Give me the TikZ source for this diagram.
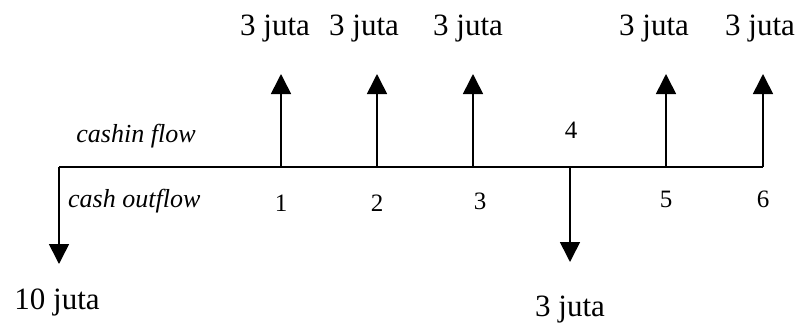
\documentclass[tikz,border=0pt]{standalone}
\usepackage{fontspec}
\setmainfont{Liberation Serif}
\usetikzlibrary{arrows.meta}
\begin{document}
\begin{tikzpicture}[x=1pt,y=-1pt,
  flow/.style={line width=1.6pt,-{Triangle[width=20pt,length=20pt]}},
  axis/.style={line width=1.6pt},
  amount/.style={inner sep=0pt,anchor=base,font=\fontsize{31}{36}\selectfont},
  period/.style={inner sep=0pt,anchor=base,font=\fontsize{25}{29}\selectfont},
  side/.style={inner sep=0pt,anchor=base,font=\fontsize{26}{30}\selectfont\itshape}]
\useasboundingbox (0,0) rectangle (798,325);

% time axis
\coordinate (t0) at (59,167);
\coordinate (t1) at (281,167);
\coordinate (t2) at (377,167);
\coordinate (t3) at (473,167);
\coordinate (t4) at (570,167);
\coordinate (t5) at (666,167);
\coordinate (t6) at (763,167);
\draw[axis] (t0) -- (t6);

% arrow tips
\coordinate (d0) at (59,264);
\coordinate (u1) at (281,74);
\coordinate (u2) at (377,74);
\coordinate (u3) at (473,74);
\coordinate (d4) at (570,262);
\coordinate (u5) at (666,74);
\coordinate (u6) at (763,74);

% cash flows
\draw[flow] (t0) -- (d0);
\draw[flow] (t1) -- (u1);
\draw[flow] (t2) -- (u2);
\draw[flow] (t3) -- (u3);
\draw[flow] (t4) -- (d4);
\draw[flow] (t5) -- (u5);
\draw[flow] (t6) -- (u6);

% amounts
\node[amount] (a1) at (275,35) {3 juta};
\node[amount] (a2) at (364,35) {3 juta};
\node[amount] (a3) at (468,35) {3 juta};
\node[amount] (a5) at (654,35) {3 juta};
\node[amount] (a6) at (760,35) {3 juta};
\node[amount] (a0) at (57,309) {10 juta};
\node[amount] (a4) at (570,316) {3 juta};

% period numbers
\node[period] (p1) at (281,211) {1};
\node[period] (p2) at (377,211) {2};
\node[period] (p3) at (480,209) {3};
\node[period] (p4) at (571,138) {4};
\node[period] (p5) at (666,207) {5};
\node[period] (p6) at (763,207) {6};

% side labels
\node[side] (in) at (136,142) {cashin flow};
\node[side,anchor=base west] (out) at (68,207) {cash outflow};
\end{tikzpicture}
\end{document}
